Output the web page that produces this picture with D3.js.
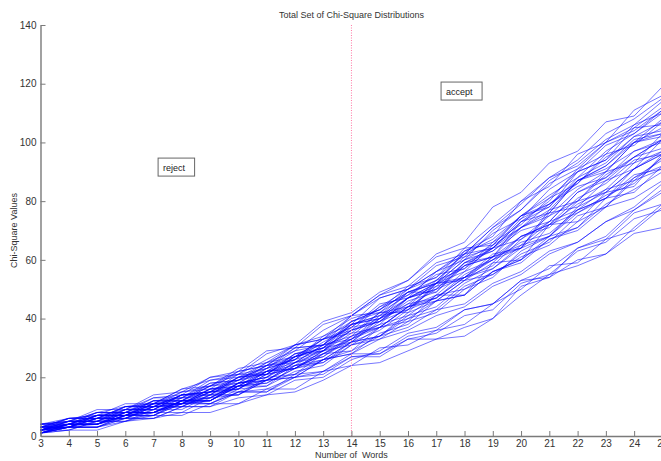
<!DOCTYPE html>
<html>
<head>
<meta charset="utf-8">
<script src="https://cdn.jsdelivr.net/npm/d3@7"></script>
<style>
  html, body { margin: 0; padding: 0; background: #fff; }
  svg { display: block; font-family: "Liberation Sans", Arial, sans-serif; }
</style>
</head>
<body>
<svg id="chart" width="661" height="461"></svg>
<script>
// Number of words on the x axis
const words = [3,4,5,6,7,8,9,10,11,12,13,14,15,16,17,18,19,20,21,22,23,24,25];
const xTicks = words;
const yTicks = [0,20,40,60,80,100,120,140];

// Chi-square value per word count, one row per run
const runs = [
  [1,3,3,5,6,8,8,11,14,15,19,24,25,29,33,34,40,48,55,58,62,71,79],
  [4,5,8,10,11,16,19,21,26,31,33,41,47,50,56,63,66,75,82,88,97,103,110],
  [2,4,4,7,10,11,13,17,19,25,28,34,38,47,52,63,68,80,85,96,100,111,116],
  [3,5,6,8,12,12,17,21,21,28,30,39,43,49,53,62,64,71,76,87,92,101,103],
  [1,2,2,5,7,7,11,11,16,16,22,24,30,31,36,38,45,50,58,59,67,70,78],
  [2,3,6,6,9,10,15,16,22,23,28,33,40,44,53,57,66,72,81,86,96,99,107],
  [3,6,7,9,13,14,20,21,28,31,39,42,49,53,62,66,78,83,93,97,107,109,119],
  [2,4,4,7,8,11,11,15,16,20,22,27,28,34,36,43,45,53,54,64,67,76,79],
  [1,3,5,6,10,11,15,17,22,25,31,33,41,43,52,54,62,64,76,78,87,91,101],
  [3,4,7,8,9,14,15,19,22,28,29,38,40,49,49,59,61,73,76,87,90,100,102],
  [2,5,5,8,8,12,11,15,15,20,21,27,27,33,35,41,43,52,55,63,66,74,77],
  [4,6,6,10,11,15,16,22,24,30,31,41,42,50,54,64,65,75,78,90,94,105,106],
  [1,2,5,5,8,8,13,14,20,21,28,29,37,39,48,48,59,60,72,73,83,85,96],
  [2,4,7,7,12,12,16,18,24,25,31,34,42,42,52,53,61,64,77,80,90,93,103],
  [2,3,4,6,6,10,10,15,15,21,22,28,28,33,33,37,40,51,54,60,62,69,71],
  [3,5,5,9,10,14,15,21,23,30,31,38,40,47,50,58,61,68,71,80,83,91,96],
  [1,4,4,8,8,12,12,18,19,25,29,36,40,47,51,59,63,71,75,84,90,100,105],
  [2,3,6,7,11,11,16,16,22,23,29,33,38,41,48,50,56,60,68,71,81,83,92],
  [4,5,9,9,14,15,20,22,29,30,38,41,48,51,59,62,71,77,87,93,101,106,114],
  [2,5,5,8,8,12,12,17,18,23,26,32,34,40,43,51,55,62,66,75,78,87,91],
  [3,3,7,7,10,11,16,17,23,26,32,37,44,50,56,60,70,77,86,91,100,105,112],
  [1,3,3,6,7,11,12,17,17,24,26,32,36,43,47,54,57,64,68,77,81,88,92],
  [2,5,5,10,10,14,15,20,23,29,31,39,43,51,54,62,67,75,79,85,88,97,101],
  [3,4,8,8,11,11,15,16,21,23,29,31,37,40,46,48,56,59,67,70,78,81,87],
  [2,4,4,8,8,13,13,18,20,27,29,37,39,46,49,58,64,73,78,88,93,102,107],
  [1,3,3,6,6,10,10,13,14,19,20,26,29,35,37,43,45,53,57,64,68,77,83],
  [4,4,8,8,12,13,19,20,25,29,36,41,48,53,61,64,72,80,88,94,103,108,115],
  [2,5,5,9,9,13,14,20,22,27,30,36,39,47,52,60,63,70,73,83,88,95,98],
  [3,4,7,7,11,13,17,18,23,26,33,35,42,44,50,54,60,64,72,76,82,86,95],
  [1,4,4,7,8,12,12,17,19,24,27,33,37,44,47,55,60,68,72,81,86,94,96],
  [2,2,5,5,9,9,14,14,19,21,26,28,35,38,46,48,56,60,67,71,79,84,90],
  [3,6,7,11,11,16,17,22,24,31,34,40,43,49,52,60,65,75,81,90,94,102,104],
  [2,3,6,6,10,10,14,16,21,23,28,32,40,45,52,56,65,71,79,86,95,100,108],
  [1,3,3,7,7,12,13,18,20,25,27,34,37,44,46,53,59,68,72,79,84,93,97],
  [4,5,8,8,13,13,18,19,24,26,34,38,47,50,58,61,69,74,84,90,99,103,111],
  [2,4,4,8,8,11,11,16,17,22,24,31,33,39,42,50,54,63,68,78,83,91,96],
  [3,3,7,7,12,12,18,19,24,27,33,37,45,47,56,62,71,79,88,92,100,104,111],
  [1,4,4,7,7,11,12,18,20,26,29,35,37,44,48,56,60,66,69,77,81,89,91],
  [2,6,6,10,10,14,15,20,21,27,30,38,41,49,52,58,61,71,77,87,92,100,103],
  [3,3,6,6,10,10,14,14,19,20,26,29,34,37,43,45,52,56,63,66,73,77,84],
  [2,4,6,9,9,14,14,20,21,28,31,38,41,47,50,59,64,74,79,87,91,97,100],
  [1,3,3,7,8,12,13,18,19,24,25,31,34,42,46,53,55,61,65,73,78,88,94],
  [3,6,6,10,10,15,17,23,25,31,33,39,42,48,53,61,64,73,80,91,96,106,110],
  [2,3,6,6,11,11,15,15,19,20,26,28,33,36,41,44,51,55,62,66,73,78,86],
  [2,4,4,9,9,14,14,19,21,27,30,36,39,45,47,54,58,67,73,83,87,95,101],
  [4,4,7,7,11,11,16,17,22,24,30,32,39,43,51,54,61,65,73,77,84,87,95],
  [1,4,4,7,7,12,12,17,18,23,25,32,34,41,44,52,57,65,68,76,81,91,97],
  [3,3,7,7,11,12,17,19,25,27,33,36,44,48,55,57,64,67,75,80,89,95,101]
];

// Decision threshold and region labels
const threshold = 14;
const regionLabels = [
  { text: "reject", x: 7.16, y: 91.6 },
  { text: "accept", x: 17.17, y: 117.5 }
];

const svg = d3.select("#chart");
const axisColor = "#7a7a7a";
const textColor = "#333";

const x = d3.scaleLinear().domain([3, 25]).range([40.5, 662.4]);
const y = d3.scaleLinear().domain([0, 140]).range([436, 25]);

// Runs
const line = d3.line().x((d, i) => x(words[i])).y(d => y(d));
svg.append("g")
  .selectAll("path")
  .data(runs)
  .join("path")
  .attr("d", line)
  .attr("fill", "none")
  .attr("stroke", "#0000ff")
  .attr("stroke-width", 0.9)
  .attr("stroke-opacity", 0.6);

// Threshold marker
svg.append("line")
  .attr("x1", x(threshold)).attr("x2", x(threshold))
  .attr("y1", y(140)).attr("y2", y(0))
  .attr("stroke", "#ff7aa5")
  .attr("stroke-width", 1)
  .attr("stroke-dasharray", "1,1.5");

// Axes
const xAxis = d3.axisBottom(x).tickValues(xTicks).tickFormat(d3.format("d"))
  .tickSizeInner(-5).tickSizeOuter(0).tickPadding(4);
const yAxis = d3.axisLeft(y).tickValues(yTicks).tickFormat(d3.format("d"))
  .tickSizeInner(-5).tickSizeOuter(0).tickPadding(4);

const gx = svg.append("g").attr("transform", `translate(0,${y(0)})`).call(xAxis);
const gy = svg.append("g").attr("transform", `translate(${x(3)},0)`).call(yAxis);
[gx, gy].forEach(g => {
  g.select(".domain").attr("stroke", axisColor).attr("stroke-width", 1.4);
  g.selectAll(".tick line").attr("stroke", axisColor).attr("stroke-width", 1);
  g.selectAll(".tick text").attr("fill", textColor)
    .style("font-family", "Liberation Sans, Arial, sans-serif").style("font-size", "10px");
});

// Title and axis labels
const midX = (x(3) + x(25)) / 2;
svg.append("text").attr("x", midX).attr("y", 18)
  .attr("text-anchor", "middle").attr("fill", textColor).style("font-size", "9px")
  .text("Total Set of Chi-Square Distributions");
svg.append("text").attr("x", midX).attr("y", 458)
  .attr("text-anchor", "middle").attr("fill", textColor).style("font-size", "9px")
  .attr("xml:space", "preserve").style("white-space", "pre")
  .text("Number of  Words");
svg.append("text")
  .attr("transform", `translate(17,${(y(0) + y(140)) / 2}) rotate(-90)`)
  .attr("text-anchor", "middle").attr("fill", textColor).style("font-size", "9px")
  .text("Chi-Square Values");

// Region labels in boxes
regionLabels.forEach(r => {
  const g = svg.append("g");
  const t = g.append("text")
    .attr("x", x(r.x) + 5).attr("y", y(r.y) + 3.5)
    .attr("fill", "#222").style("font-size", "9px")
    .text(r.text);
  const bb = t.node().getBBox();
  g.insert("rect", "text")
    .attr("x", x(r.x)).attr("y", y(r.y) - 9)
    .attr("width", bb.width + 14).attr("height", 18)
    .attr("fill", "#fff").attr("stroke", "#666").attr("stroke-width", 1);
});
</script>
</body>
</html>
